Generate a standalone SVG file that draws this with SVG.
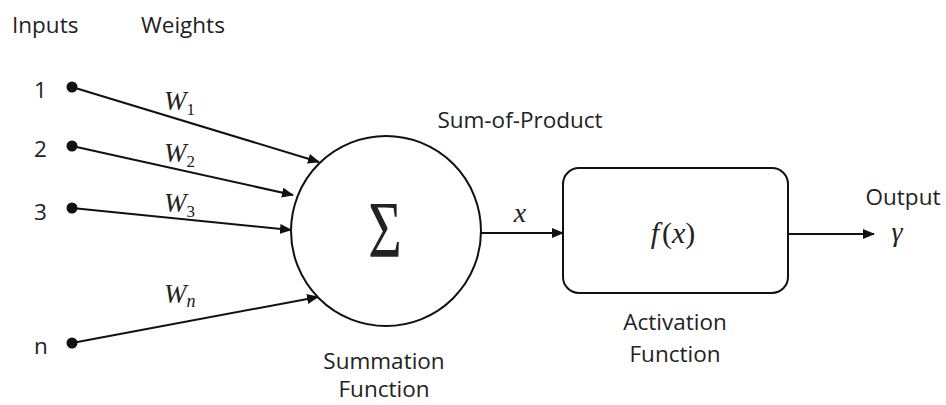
<svg xmlns="http://www.w3.org/2000/svg" width="946" height="405" viewBox="0 0 946 405">
<style>
.lbl{font-family:"Open Sans","Liberation Sans",sans-serif;font-size:22.5px;fill:#222}
.math{font-family:"Liberation Serif","DejaVu Serif",serif;font-style:italic;fill:#222}
.up{font-style:normal}
.edge{stroke:#111;stroke-width:2;fill:none;marker-end:url(#ah)}
.shape{stroke:#111;stroke-width:2;fill:#fff}
.dot{fill:#111}
</style>
<defs>
<marker id="ah" markerWidth="12" markerHeight="10" refX="11" refY="5" orient="auto" markerUnits="userSpaceOnUse">
<path d="M0,0 L12,5 L0,10 Z" fill="#111"/>
</marker>
</defs>
<rect width="946" height="405" fill="#fff"/>
<text class="lbl" x="12" y="33">Inputs</text>
<text class="lbl" x="141" y="33">Weights</text>
<g id="connectors">
<line class="edge" x1="72" y1="87" x2="319" y2="162"/>
<line class="edge" x1="72" y1="146" x2="293" y2="195"/>
<line class="edge" x1="72" y1="208" x2="291" y2="230"/>
<line class="edge" x1="72" y1="343" x2="318" y2="297"/>
<line class="edge" x1="480" y1="233" x2="563" y2="233"/>
<line class="edge" x1="788" y1="234" x2="874" y2="234"/>
</g>
<g id="input1"><circle class="dot" cx="72" cy="87" r="5.5"/><text class="lbl" x="34" y="98">1</text></g>
<g id="input2"><circle class="dot" cx="72" cy="146" r="5.5"/><text class="lbl" x="34" y="157">2</text></g>
<g id="input3"><circle class="dot" cx="72" cy="208" r="5.5"/><text class="lbl" x="34" y="220">3</text></g>
<g id="inputn"><circle class="dot" cx="72" cy="343" r="5.5"/><text class="lbl" x="34" y="354">n</text></g>
<g id="weights">
<text class="math" x="164" y="110" font-size="27">W<tspan class="up" font-size="17" dy="5">1</tspan></text>
<text class="math" x="164" y="162" font-size="27">W<tspan class="up" font-size="17" dy="5">2</tspan></text>
<text class="math" x="164" y="212" font-size="27">W<tspan class="up" font-size="17" dy="5">3</tspan></text>
<text class="math" x="164" y="303" font-size="27">W<tspan font-size="18" dy="4">n</tspan></text>
</g>
<g id="summation">
<circle class="shape" cx="386" cy="231" r="95"/>
<text x="0" y="0" transform="translate(385,257) scale(0.72,1)" font-family="Liberation Serif,serif" font-size="80" text-anchor="middle" fill="#222">Σ</text>
<text class="lbl" x="520" y="128" text-anchor="middle">Sum-of-Product</text>
<text class="lbl" x="384" y="369" text-anchor="middle">Summation</text>
<text class="lbl" x="384" y="397" text-anchor="middle">Function</text>
</g>
<text class="math" x="520" y="222" font-size="28" text-anchor="middle">x</text>
<g id="activation">
<rect class="shape" x="563" y="168" width="225" height="125" rx="16"/>
<text class="math" x="673" y="243" font-size="30" text-anchor="middle">f<tspan class="up" dx="3">(</tspan>x<tspan class="up">)</tspan></text>
<text class="lbl" x="675" y="330" text-anchor="middle">Activation</text>
<text class="lbl" x="675" y="362" text-anchor="middle">Function</text>
</g>
<g id="output">
<text class="lbl" x="903" y="205" text-anchor="middle">Output</text>
<text class="math" x="897" y="241" font-size="28" text-anchor="middle">γ</text>
</g>
</svg>
